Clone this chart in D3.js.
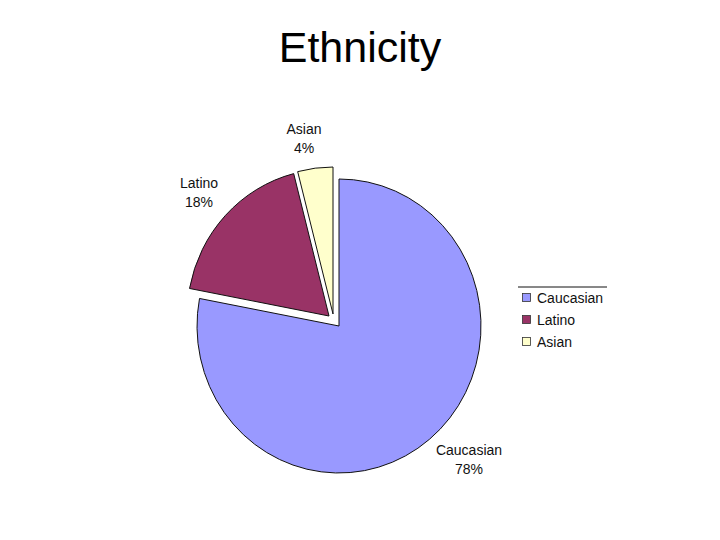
<!DOCTYPE html>
<html>
<head>
<meta charset="utf-8">
<script src="https://cdn.jsdelivr.net/npm/d3@7"></script>
<style>
  body { margin: 0; background: #fff; }
  svg { display: block; font-family: "Liberation Sans", Arial, sans-serif; }
</style>
</head>
<body>
<div id="chart"></div>
<script>
const categories = ["Caucasian", "Latino", "Asian"];
const values = [78, 18, 4];
const colors = ["#9999ff", "#993366", "#ffffcc"];

const width = 720, height = 540;
const cx = 339, cy = 326, rx = 142, ry = 147;
// exploded slices are pulled out by these pixel shifts
const explodeShift = {Caucasian: [0, 0], Latino: [-10, -10], Asian: [-6, -12]};
// label anchor points (name line baseline)
const labelPos = {Caucasian: [469, 455], Latino: [199, 188], Asian: [304, 134]};

const svg = d3.select("#chart").append("svg")
  .attr("width", width)
  .attr("height", height);

svg.append("text")
  .attr("x", 360)
  .attr("y", 62)
  .attr("text-anchor", "middle")
  .style("font-size", "43px")
  .text("Ethnicity");

const data = categories.map((c, i) => ({name: c, value: values[i], color: colors[i]}));

const pie = d3.pie().sort(null).value(d => d.value);
const arc = d3.arc().innerRadius(0).outerRadius(ry);
const arcs = pie(data);

const g = svg.append("g").attr("transform", `translate(${cx},${cy})`);

g.selectAll("path.slice")
  .data(arcs)
  .join("path")
    .classed("slice", true)
    .attr("transform", d => `translate(${explodeShift[d.data.name]}) scale(${rx / ry},1)`)
    .attr("d", arc)
    .attr("fill", d => d.data.color)
    .attr("stroke", "#111")
    .attr("stroke-width", 1)
    .attr("vector-effect", "non-scaling-stroke");

const labels = svg.selectAll("g.label")
  .data(arcs)
  .join("g")
    .classed("label", true)
    .attr("transform", d => `translate(${labelPos[d.data.name]})`);
labels.append("text")
  .attr("text-anchor", "middle")
  .style("font-size", "14px")
  .attr("fill", "#111")
  .text(d => d.data.name);
labels.append("text")
  .attr("text-anchor", "middle")
  .attr("y", 19)
  .style("font-size", "14px")
  .attr("fill", "#111")
  .text(d => d3.format(".0f")(d.value) + "%");

// legend
const legend = svg.append("g").attr("transform", "translate(518,287)");
legend.append("line")
  .attr("x1", 0).attr("x2", 89)
  .attr("y1", 0).attr("y2", 0)
  .attr("stroke", "#111");
const ly = d3.scalePoint().domain(categories).range([11, 55]);
const items = legend.selectAll("g.item")
  .data(data)
  .join("g")
    .classed("item", true)
    .attr("transform", d => `translate(0,${ly(d.name)})`);
items.append("rect")
  .attr("x", 4.5).attr("y", -4.5)
  .attr("width", 8).attr("height", 8)
  .attr("fill", d => d.color)
  .attr("stroke", "#333")
  .attr("stroke-width", 0.8);
items.append("text")
  .attr("x", 19)
  .attr("y", 5)
  .style("font-size", "14px")
  .attr("fill", "#111")
  .text(d => d.name);
</script>
</body>
</html>
